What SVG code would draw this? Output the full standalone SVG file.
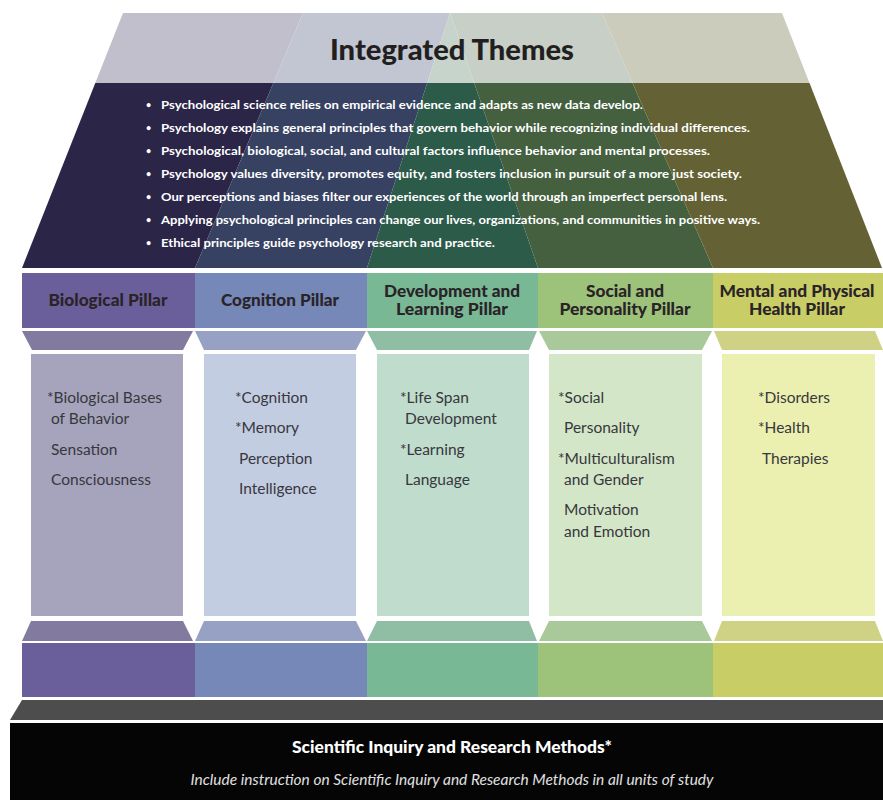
<svg xmlns="http://www.w3.org/2000/svg" width="883" height="800" viewBox="0 0 883 800">
<style>
.bul{font-family:Lato,"Open Sans","Liberation Sans",sans-serif;font-weight:700;font-size:12px;fill:#ffffff}
.dot{font-family:Lato,"Open Sans","Liberation Sans",sans-serif;font-weight:700;font-size:9px;fill:#ffffff}
.hd{font-family:Lato,"Open Sans","Liberation Sans",sans-serif;font-weight:900;font-size:16px;fill:#2a2328;text-anchor:middle}
.it{font-family:Lato,"Open Sans","Liberation Sans",sans-serif;font-size:15.5px;fill:#38373c}
</style>
<rect width="883" height="800" fill="#ffffff"/>
<g id="roof">
<polygon points="123,13 303,13 273.4,83 95.3,83" fill="#c0bfcb"/>
<polygon points="303,13 450,13 427.2,83 273.4,83" fill="#c2c6d3"/>
<polygon points="450,13 474.2,83 427.2,83" fill="#c6d4cc"/>
<polygon points="450,13 602,13 632.5,83 474.2,83" fill="#c7cfc6"/>
<polygon points="602,13 782,13 809.5,83 632.5,83" fill="#cbccbc"/>
<polygon points="95.3,83 273.4,83 195,268 22,268" fill="#2b2548"/>
<polygon points="273.4,83 427.2,83 367,268 195,268" fill="#374263"/>
<polygon points="427.2,83 474.2,83 538,268 367,268" fill="#2d5b49"/>
<polygon points="474.2,83 632.5,83 713,268 538,268" fill="#44603f"/>
<polygon points="632.5,83 809.5,83 882,268 713,268" fill="#646234"/>
<text x="452" y="60" text-anchor="middle" font-family="Lato,'Open Sans','Liberation Sans',sans-serif" font-weight="900" font-size="28" fill="#231f20" textLength="244" lengthAdjust="spacingAndGlyphs">Integrated Themes</text>
<g>
<text class="dot" x="146" y="108">•</text>
<text class="bul" x="161" y="109" textLength="482" lengthAdjust="spacingAndGlyphs">Psychological science relies on empirical evidence and adapts as new data develop.</text>
<text class="dot" x="146" y="131">•</text>
<text class="bul" x="161" y="132" textLength="589" lengthAdjust="spacingAndGlyphs">Psychology explains general principles that govern behavior while recognizing individual differences.</text>
<text class="dot" x="146" y="154">•</text>
<text class="bul" x="161" y="155" textLength="549" lengthAdjust="spacingAndGlyphs">Psychological, biological, social, and cultural factors influence behavior and mental processes.</text>
<text class="dot" x="146" y="177">•</text>
<text class="bul" x="161" y="178" textLength="581" lengthAdjust="spacingAndGlyphs">Psychology values diversity, promotes equity, and fosters inclusion in pursuit of a more just society.</text>
<text class="dot" x="146" y="200">•</text>
<text class="bul" x="161" y="201" textLength="566" lengthAdjust="spacingAndGlyphs">Our perceptions and biases filter our experiences of the world through an imperfect personal lens.</text>
<text class="dot" x="146" y="223">•</text>
<text class="bul" x="161" y="224" textLength="599" lengthAdjust="spacingAndGlyphs">Applying psychological principles can change our lives, organizations, and communities in positive ways.</text>
<text class="dot" x="146" y="246">•</text>
<text class="bul" x="161" y="247" textLength="334" lengthAdjust="spacingAndGlyphs">Ethical principles guide psychology research and practice.</text>
</g>
</g>
<g id="pillar-biological">
<rect x="22" y="273" width="173" height="55" fill="#6b5f9b"/>
<polygon points="22,331 193,331 183,350 32,350" fill="#837a9f"/>
<rect x="31" y="354" width="152" height="262" fill="#a5a4bc"/>
<polygon points="31,621 183,621 193,641 22,641" fill="#837a9f"/>
<rect x="22" y="643" width="173" height="54" fill="#6b5f9b"/>
<text class="hd" x="108" y="306" textLength="119" lengthAdjust="spacingAndGlyphs">Biological Pillar</text>
<text class="it" x="47" y="403">*Biological Bases</text>
<text class="it" x="51" y="424">of Behavior</text>
<text class="it" x="51" y="455">Sensation</text>
<text class="it" x="51" y="485">Consciousness</text>
</g>
<g id="pillar-cognition">
<rect x="195" y="273" width="172" height="55" fill="#7588b8"/>
<polygon points="195,331 366,331 356,350 204,350" fill="#96a1c3"/>
<rect x="204" y="354" width="152" height="262" fill="#c3cde2"/>
<polygon points="204,621 356,621 366,641 195,641" fill="#96a1c3"/>
<rect x="195" y="643" width="172" height="54" fill="#7588b8"/>
<text class="hd" x="280" y="306" textLength="118" lengthAdjust="spacingAndGlyphs">Cognition Pillar</text>
<text class="it" x="235" y="403">*Cognition</text>
<text class="it" x="235" y="433">*Memory</text>
<text class="it" x="239" y="464">Perception</text>
<text class="it" x="239" y="494">Intelligence</text>
</g>
<g id="pillar-development">
<rect x="367" y="273" width="171" height="55" fill="#78b894"/>
<polygon points="367,331 537,331 529,350 377,350" fill="#8fbea5"/>
<rect x="377" y="354" width="152" height="262" fill="#bfdccd"/>
<polygon points="377,621 529,621 537,641 367,641" fill="#8fbea5"/>
<rect x="367" y="643" width="171" height="54" fill="#78b894"/>
<text class="hd" x="452" y="297" textLength="136" lengthAdjust="spacingAndGlyphs">Development and</text>
<text class="hd" x="452" y="315" textLength="112" lengthAdjust="spacingAndGlyphs">Learning Pillar</text>
<text class="it" x="400" y="403">*Life Span</text>
<text class="it" x="405" y="424">Development</text>
<text class="it" x="400" y="455">*Learning</text>
<text class="it" x="405" y="485">Language</text>
</g>
<g id="pillar-social">
<rect x="538" y="273" width="175" height="55" fill="#9dc27a"/>
<polygon points="539,331 712,331 702,350 549,350" fill="#aac99a"/>
<rect x="549" y="354" width="153" height="262" fill="#d3e6c8"/>
<polygon points="549,621 702,621 712,641 539,641" fill="#aac99a"/>
<rect x="538" y="643" width="175" height="54" fill="#9dc27a"/>
<text class="hd" x="625" y="297" textLength="78" lengthAdjust="spacingAndGlyphs">Social and</text>
<text class="hd" x="625" y="315" textLength="131" lengthAdjust="spacingAndGlyphs">Personality Pillar</text>
<text class="it" x="558" y="403">*Social</text>
<text class="it" x="564" y="433">Personality</text>
<text class="it" x="558" y="464">*Multiculturalism</text>
<text class="it" x="564" y="485">and Gender</text>
<text class="it" x="564" y="515">Motivation</text>
<text class="it" x="564" y="537">and Emotion</text>
</g>
<g id="pillar-mental">
<rect x="713" y="273" width="170" height="55" fill="#c9cd66"/>
<polygon points="714,331 875,331 883,350 722,350" fill="#cfd285"/>
<rect x="722" y="354" width="153" height="262" fill="#ebf0b0"/>
<polygon points="722,621 875,621 883,641 714,641" fill="#cfd285"/>
<rect x="713" y="643" width="170" height="54" fill="#c9cd66"/>
<text class="hd" x="797" y="297" textLength="155" lengthAdjust="spacingAndGlyphs">Mental and Physical</text>
<text class="hd" x="797" y="315" textLength="96" lengthAdjust="spacingAndGlyphs">Health Pillar</text>
<text class="it" x="758" y="403">*Disorders</text>
<text class="it" x="758" y="433">*Health</text>
<text class="it" x="762" y="464">Therapies</text>
</g>
<g id="foundation">
<polygon points="22,700 883,700 883,720 10,720" fill="#4d4d4d"/>
<rect x="10" y="723" width="873" height="77" fill="#050505"/>
<text x="452" y="753" text-anchor="middle" font-family="Lato,'Open Sans','Liberation Sans',sans-serif" font-weight="900" font-size="16" fill="#ffffff" textLength="320" lengthAdjust="spacingAndGlyphs">Scientific Inquiry and Research Methods*</text>
<text x="452" y="785" text-anchor="middle" font-family="Lato,'Open Sans','Liberation Sans',sans-serif" font-style="italic" font-size="15" fill="#e0e0e0" textLength="523" lengthAdjust="spacingAndGlyphs">Include instruction on Scientific Inquiry and Research Methods in all units of study</text>
</g>
<g id="connectors"></g>
</svg>
